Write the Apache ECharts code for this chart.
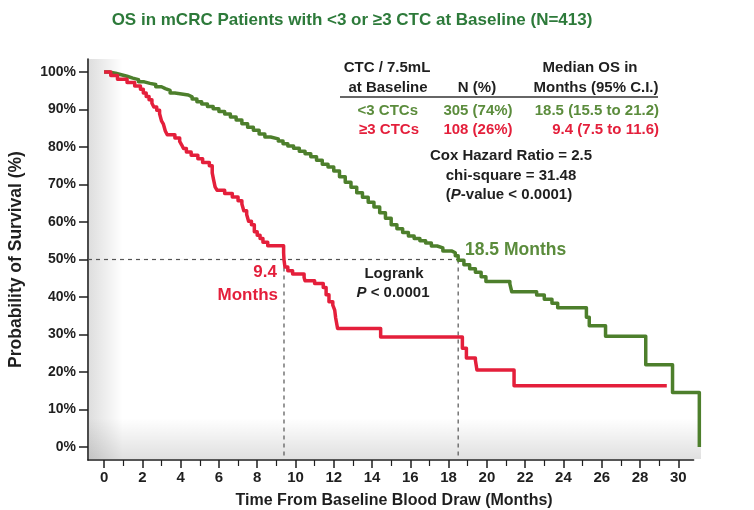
<!DOCTYPE html>
<html>
<head>
<meta charset="utf-8">
<script src="https://cdn.jsdelivr.net/npm/echarts@6/dist/echarts.min.js"></script>
<style>
  html, body { margin: 0; padding: 0; background: #fff; }
  #chart { width: 754px; height: 510px; }
</style>
</head>
<body>
<div id="chart"></div>
<script>
// Kaplan–Meier overall survival, split by baseline CTC count
const chartTitle = 'OS in mCRC Patients with <3 or \u22653 CTC at Baseline (N=413)';
const xAxisTitle = 'Time From Baseline Blood Draw (Months)';
const yAxisTitle = 'Probability of Survival (%)';

const xTickValues = [0, 2, 4, 6, 8, 10, 12, 14, 16, 18, 20, 22, 24, 26, 28, 30];
const xMinorTickValues = [1, 3, 5, 7, 9, 11, 13, 15, 17, 19, 21, 23, 25, 27, 29];
const yTickValues = [0, 10, 20, 30, 40, 50, 60, 70, 80, 90, 100];

// [month, survival %] at each step of the curve
const lowCtcCurve = [
  [0, 100], [0.3, 99.7], [0.6, 99.3], [0.9, 98.9], [1.2, 98.4], [1.5, 98.0], [1.8, 97.4],
  [2.1, 97.0], [2.4, 96.7], [2.7, 96.1], [3.0, 95.6], [3.2, 95.1], [3.45, 94.4], [3.7, 93.9],
  [4.4, 93.4], [4.6, 92.8], [4.85, 92.1], [5.1, 91.5], [5.4, 90.8], [5.7, 90.2], [6.0, 89.5],
  [6.3, 88.8], [6.6, 88.0], [6.9, 87.2], [7.2, 86.2], [7.5, 85.3], [7.8, 84.5], [8.1, 83.5],
  [8.4, 82.7], [8.7, 82.2], [9.1, 81.6], [9.35, 80.9], [9.6, 80.3], [9.9, 79.7], [10.2, 78.9],
  [10.5, 78.2], [10.8, 77.4], [11.1, 76.5], [11.4, 75.4], [11.7, 74.7], [12.0, 73.6], [12.3, 72.1],
  [12.6, 70.6], [12.9, 69.3], [13.2, 67.8], [13.5, 66.6], [13.8, 65.3], [14.1, 64.0], [14.4, 62.5],
  [14.7, 61.0], [15.0, 59.3], [15.3, 58.2], [15.6, 57.2], [15.9, 56.3], [16.2, 55.6], [16.5, 55.0],
  [16.8, 54.4], [17.1, 53.6], [17.4, 53.1], [17.7, 52.3], [18.15, 51.8], [18.35, 51.0], [18.5, 49.8],
  [18.8, 48.6], [19.1, 47.5], [19.4, 46.6], [19.7, 45.4], [19.95, 44.1], [21.2, 43.5], [21.3, 41.4],
  [22.6, 40.5], [23.0, 39.4], [23.4, 38.3], [23.7, 37.1], [25.2, 34.6], [25.35, 32.3], [26.2, 29.5],
  [28.3, 21.9], [29.7, 14.5], [31.1, 0]
];

const highCtcCurve = [
  [0, 100], [0.35, 99.1], [0.7, 98.1], [1.2, 97.2], [1.6, 96.3], [1.9, 95.4], [2.05, 94.4],
  [2.2, 93.5], [2.35, 92.6], [2.5, 91.7], [2.6, 90.7], [2.75, 89.8], [2.9, 88.9], [3.0, 87.0],
  [3.1, 86.1], [3.2, 84.3], [3.3, 83.3], [3.7, 82.4], [3.95, 81.5], [4.05, 80.6], [4.15, 79.6],
  [4.3, 78.7], [4.55, 77.8], [4.9, 76.9], [5.15, 75.9], [5.5, 75.0], [5.65, 73.1], [5.72, 71.3],
  [5.8, 69.4], [5.9, 68.5], [6.3, 67.6], [6.7, 66.7], [7.0, 65.7], [7.2, 64.8], [7.3, 63.0],
  [7.45, 62.0], [7.55, 60.2], [7.7, 59.3], [7.85, 57.4], [8.0, 56.5], [8.15, 55.6], [8.3, 54.6],
  [8.55, 53.7], [9.38, 51.8], [9.4, 49.9], [9.45, 48.0], [9.6, 47.0], [9.85, 46.1], [10.45, 45.2],
  [10.5, 44.3], [11.0, 43.6], [11.45, 42.5], [11.6, 40.6], [11.75, 38.7], [11.95, 37.8], [12.05, 36.5],
  [12.1, 34.4], [12.2, 31.6], [14.45, 29.3], [18.72, 26.3], [18.93, 23.7], [19.4, 23.1], [19.48, 20.5],
  [21.42, 16.3], [29.4, 16.3]
];

// Median OS (months) for each group, at 50% survival
const medianLow = 18.5;
const medianHigh = 9.4;
const medianLevel = 50;

// Data extent, and the shorter extent the drawn x axis line covers (same scale)
const X_MIN = -0.84, X_MAX = 31.15, X_LINE_MAX = 30.8;
const Y_MIN = -3.5, Y_MAX = 103.5;
const PLOT_LEFT = 88, PLOT_TOP = 59, PLOT_BOTTOM = 50, CHART_W = 754;
const PX_PER_MONTH = 19.14;
const dataRight = CHART_W - PLOT_LEFT - (X_MAX - X_MIN) * PX_PER_MONTH;
const lineRight = CHART_W - PLOT_LEFT - (X_LINE_MAX - X_MIN) * PX_PER_MONTH;

const GREEN = '#4d7f2c';
const GREEN_TEXT = '#5b8c3c';
const TITLE_GREEN = '#2d7a3a';
const RED = '#e41f3b';
const INK = '#1f1f1f';
const FONT = '"Liberation Sans", Arial, Helvetica, sans-serif';

const chart = echarts.init(document.getElementById('chart'));

function txt(x, y, text, opts) {
  opts = opts || {};
  const align = opts.align || 'center';
  return {
    type: 'text', x: x, y: y, z: 20,
    style: {
      text: text,
      fill: opts.color || INK,
      font: 'bold ' + (opts.size || 15) + 'px ' + FONT,
      textAlign: align, align: align,
      textVerticalAlign: 'middle', verticalAlign: 'middle',
      rich: opts.rich
    }
  };
}

function italicRich(size) {
  return {
    i: { fontStyle: 'italic', fontWeight: 'bold', fontSize: size, fontFamily: FONT, fill: INK, color: INK },
    n: { fontWeight: 'bold', fontSize: size, fontFamily: FONT, fill: INK, color: INK }
  };
}

const guideStyle = { color: '#555', width: 1.2, type: [4, 4] };

const option = {
  animation: false,
  backgroundColor: '#ffffff',
  grid: [
    { left: PLOT_LEFT, right: dataRight, top: PLOT_TOP, bottom: PLOT_BOTTOM, containLabel: false, outerBoundsMode: 'none' },
    { left: PLOT_LEFT, right: lineRight, top: PLOT_TOP, bottom: PLOT_BOTTOM, containLabel: false, outerBoundsMode: 'none' }
  ],
  xAxis: [
    {
      gridIndex: 0, type: 'value', min: X_MIN, max: X_MAX, position: 'bottom',
      name: xAxisTitle, nameLocation: 'middle', nameGap: 33,
      nameTextStyle: { fontSize: 16, fontWeight: 'bold', color: INK, fontFamily: FONT },
      axisLine: { show: false, onZero: false },
      axisTick: { show: true, customValues: xTickValues, length: 8, lineStyle: { color: INK, width: 1.5 } },
      axisLabel: { customValues: xTickValues, fontSize: 15, fontWeight: 'bold', color: INK, fontFamily: FONT, margin: 10 },
      splitLine: { show: false }
    },
    {
      gridIndex: 0, type: 'value', min: X_MIN, max: X_MAX, position: 'bottom',
      axisLine: { show: false, onZero: false },
      axisTick: { show: true, customValues: xMinorTickValues, length: 6, lineStyle: { color: INK, width: 1.2 } },
      axisLabel: { show: false },
      splitLine: { show: false }
    },
    {
      gridIndex: 1, type: 'value', min: X_MIN, max: X_LINE_MAX, position: 'bottom',
      axisLine: { show: true, onZero: false, lineStyle: { color: INK, width: 1.6 } },
      axisTick: { show: false }, axisLabel: { show: false }, splitLine: { show: false }
    }
  ],
  yAxis: [
    {
      gridIndex: 0, type: 'value', min: Y_MIN, max: Y_MAX,
      name: yAxisTitle, nameLocation: 'middle', nameGap: 63,
      nameTextStyle: { fontSize: 17.5, fontWeight: 'bold', color: INK, fontFamily: FONT },
      axisLine: { show: true, onZero: false, lineStyle: { color: INK, width: 1.6 } },
      axisTick: { show: true, customValues: yTickValues, length: 9, lineStyle: { color: INK, width: 1.5 } },
      axisLabel: { customValues: yTickValues, formatter: '{value}%', fontSize: 14, fontWeight: 'bold', color: INK, fontFamily: FONT, margin: 12 },
      splitLine: { show: false }
    },
    {
      gridIndex: 1, type: 'value', min: Y_MIN, max: Y_MAX, show: false,
      axisLine: { show: false, onZero: false }, splitLine: { show: false }
    }
  ],
  series: [
    {
      name: 'median guide', type: 'line', silent: true, symbol: 'none', z: 1,
      data: [[X_MIN, medianLevel], [medianLow, medianLevel]], lineStyle: guideStyle
    },
    {
      name: 'median guide high', type: 'line', silent: true, symbol: 'none', z: 1,
      data: [[medianHigh, medianLevel], [medianHigh, Y_MIN]], lineStyle: guideStyle
    },
    {
      name: 'median guide low', type: 'line', silent: true, symbol: 'none', z: 1,
      data: [[medianLow, medianLevel], [medianLow, Y_MIN]], lineStyle: guideStyle
    },
    {
      name: '<3 CTCs', type: 'line', step: 'end', symbol: 'none', z: 3,
      data: lowCtcCurve,
      lineStyle: { color: GREEN, width: 3.5, join: 'round' }
    },
    {
      name: '\u22653 CTCs', type: 'line', step: 'end', symbol: 'none', z: 4,
      data: highCtcCurve,
      lineStyle: { color: RED, width: 3.5, join: 'round' }
    }
  ],
  graphic: [
    // soft shading along the inside of the axes
    {
      type: 'rect', z: 0, silent: true,
      shape: { x: 89, y: 59, width: 34, height: 400 },
      style: { fill: new echarts.graphic.LinearGradient(0, 0, 1, 0, [
        { offset: 0, color: 'rgba(0,0,0,0.13)' }, { offset: 1, color: 'rgba(0,0,0,0)' }]) }
    },
    {
      type: 'rect', z: 0, silent: true,
      shape: { x: 89, y: 418, width: 612, height: 41 },
      style: { fill: new echarts.graphic.LinearGradient(0, 0, 0, 1, [
        { offset: 0, color: 'rgba(0,0,0,0)' }, { offset: 1, color: 'rgba(0,0,0,0.12)' }]) }
    },
    txt(352, 20, chartTitle, { size: 17, color: TITLE_GREEN }),

    // summary table
    txt(387, 68, 'CTC / 7.5mL'),
    txt(388, 88, 'at Baseline'),
    txt(477, 88, 'N (%)'),
    txt(590, 68, 'Median OS in'),
    txt(596, 88, 'Months (95% C.I.)'),
    { type: 'line', z: 20, shape: { x1: 340, y1: 97, x2: 658, y2: 97 }, style: { stroke: '#333', lineWidth: 1.4 } },
    txt(418, 111, '<3 CTCs', { align: 'right', color: GREEN_TEXT }),
    txt(478, 111, '305 (74%)', { color: GREEN_TEXT }),
    txt(659, 111, '18.5 (15.5 to 21.2)', { align: 'right', color: GREEN_TEXT }),
    txt(419, 130, '\u22653 CTCs', { align: 'right', color: RED }),
    txt(478, 130, '108 (26%)', { color: RED }),
    txt(659, 130, '9.4 (7.5 to 11.6)', { align: 'right', color: RED }),
    txt(511, 156, 'Cox Hazard Ratio = 2.5'),
    txt(511, 176, 'chi-square = 31.48'),
    txt(509, 195, '{n|(}{i|P}{n|-value < 0.0001)}', { rich: italicRich(15) }),

    // median annotations
    txt(465, 250, '18.5 Months', { size: 17.5, color: GREEN_TEXT, align: 'left' }),
    txt(277, 272, '9.4', { size: 17, color: RED, align: 'right' }),
    txt(278, 295, 'Months', { size: 17, color: RED, align: 'right' }),
    txt(394, 274, 'Logrank', { size: 15 }),
    txt(393, 293, '{i|P}{n| < 0.0001}', { size: 15, rich: italicRich(15) })
  ]
};

chart.setOption(option);
</script>
</body>
</html>
